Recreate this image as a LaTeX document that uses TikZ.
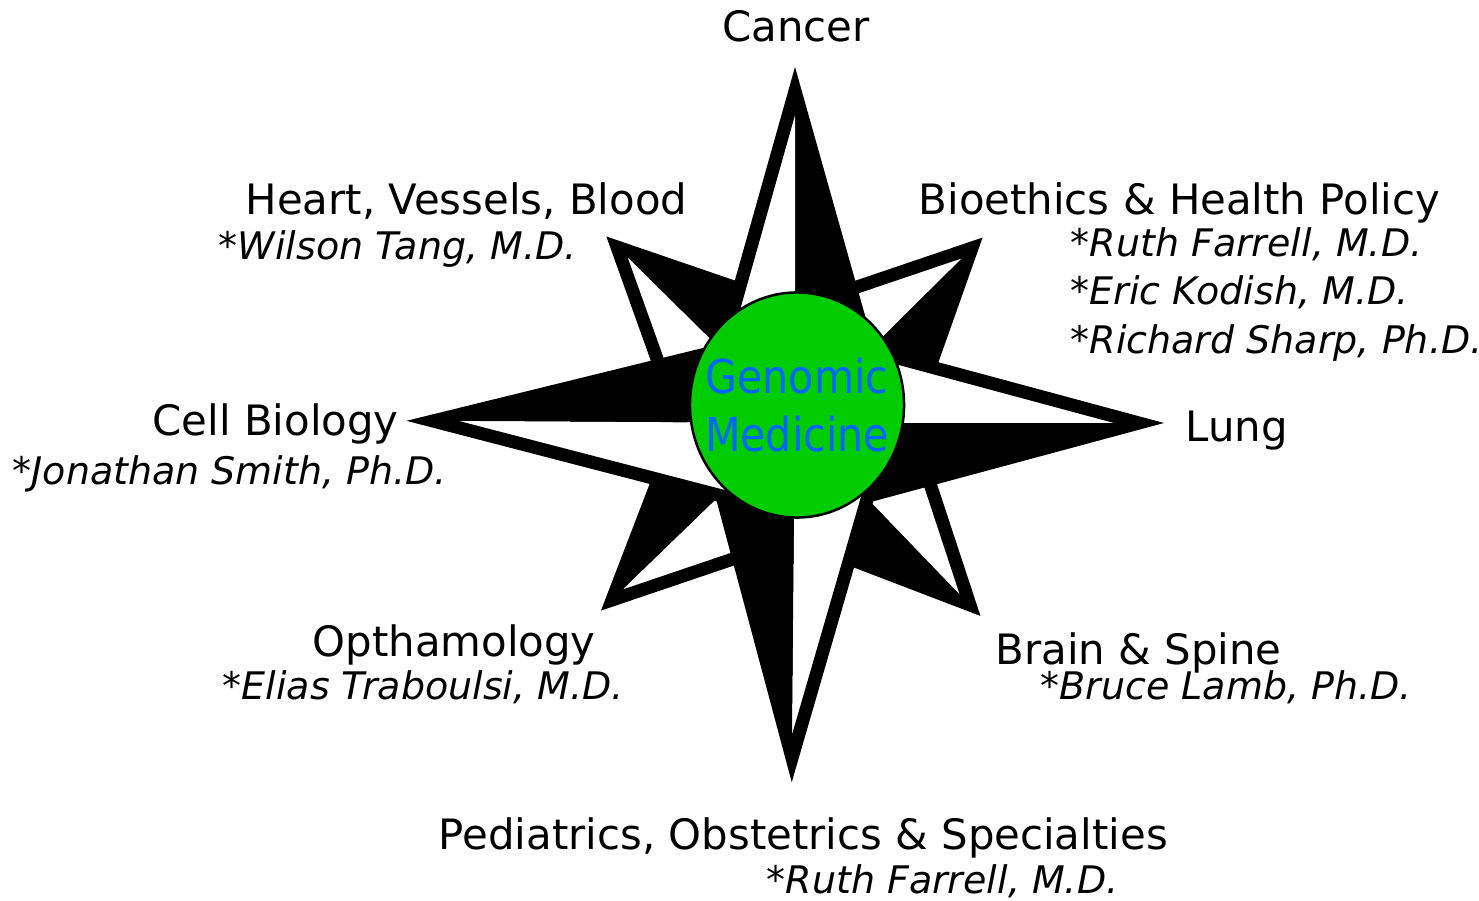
\documentclass[tikz,border=0pt]{standalone}
\usepackage{fontspec}
\setmainfont{DejaVu Sans}
\newfontfamily\gmfont[FakeStretch=0.88]{DejaVu Sans}
\usetikzlibrary{shapes.geometric, positioning}
\definecolor{gmgreen}{RGB}{0,204,0}
\definecolor{gmblue}{RGB}{0,102,255}
\tikzset{
  hd/.style={font=\fontsize{11.9}{14}\selectfont, anchor=base west, inner sep=0pt},
  who/.style={font=\fontsize{10.8}{13}\selectfont\itshape, anchor=base west, inner sep=0pt},
  rim/.style={draw=black, line width=0.13cm, line join=miter, miter limit=10},
  hub/.style={ellipse, draw=black, line width=0.025cm, fill=gmgreen, minimum width=2.14cm,
    minimum height=2.25cm, inner sep=0pt},
  hubtext/.style={align=center, text=gmblue, inner sep=0pt,
    font=\gmfont\fontsize{13.3}{16.5}\selectfont},
}

\begin{document}
\begin{tikzpicture}[x=0.01cm, y=-0.01cm]
  \useasboundingbox (0,0) rectangle (1479,901);
  % star points
  \coordinate (c) at (795,423);
  \coordinate (nt) at (795,91);   \coordinate (et) at (1139,423);
  \coordinate (st) at (792,758);  \coordinate (wt) at (433,421);
  \coordinate (ne) at (868,350);  \coordinate (nw) at (722,350);
  \coordinate (sw) at (722,496);  \coordinate (se) at (868,496);
  \coordinate (nwt) at (617,247); \coordinate (net) at (972,248);
  \coordinate (swt) at (612,600); \coordinate (set) at (970,605);
  \coordinate (ni) at (795,308);  \coordinate (ei) at (910,423);
  \coordinate (si) at (795,538);  \coordinate (wi) at (680,423);
  % diagonal star
  \foreach \t/\b/\w in {nwt/ni/wi, net/ei/ni, set/si/ei, swt/wi/si} {
    \fill[black] (c) -- (\t) -- (\b) -- cycle;
    \fill[white] (c) -- (\t) -- (\w) -- cycle;
  }
  \draw[rim] (nwt) -- (ni) -- (net) -- (ei) -- (set) -- (si) -- (swt) -- (wi) -- cycle;
  % main star
  \foreach \t/\b/\w in {nt/ne/nw, et/se/ne, st/sw/se, wt/nw/sw} {
    \fill[black] (c) -- (\t) -- (\b) -- cycle;
    \fill[white] (c) -- (\t) -- (\w) -- cycle;
  }
  \draw[rim] (nt) -- (ne) -- (et) -- (se) -- (st) -- (sw) -- (wt) -- (nw) -- cycle;
  % hub
  \node[hub] (gm) at (797,405) {};
  \node[hubtext] (gmtext) at (gm.center) {Genomic\\Medicine};
  % labels
  \node[hd, anchor=base] (cancer) at (796,42) {Cancer};
  \node[hd] (heart) at (245,215) {Heart, Vessels, Blood};
  \node[who] (tang) at (218,260) {*Wilson Tang, M.D.};
  \node[hd] (bioeth) at (918,215) {Bioethics \& Health Policy};
  \node[who] (farrell) at (1070,257) {*Ruth Farrell, M.D.};
  \node[who] (kodish) at (1070,305) {*Eric Kodish, M.D.};
  \node[who] (sharp) at (1070,354) {*Richard Sharp, Ph.D.};
  \node[hd] (cell) at (152,436) {Cell Biology};
  \node[who] (smith) at (12,485) {*Jonathan Smith, Ph.D.};
  \node[hd] (lung) at (1185,442) {Lung};
  \node[hd] (eye) at (312,657) {Opthamology};
  \node[who] (traboulsi) at (222,700) {*Elias Traboulsi, M.D.};
  \node[hd] (brain) at (995,665) {Brain \& Spine};
  \node[who] (lamb) at (1040,700) {*Bruce Lamb, Ph.D.};
  \node[hd] (peds) at (438,850) {Pediatrics, Obstetrics \& Specialties};
  \node[who] (farrell2) at (766,893) {*Ruth Farrell, M.D.};
\end{tikzpicture}
\end{document}
